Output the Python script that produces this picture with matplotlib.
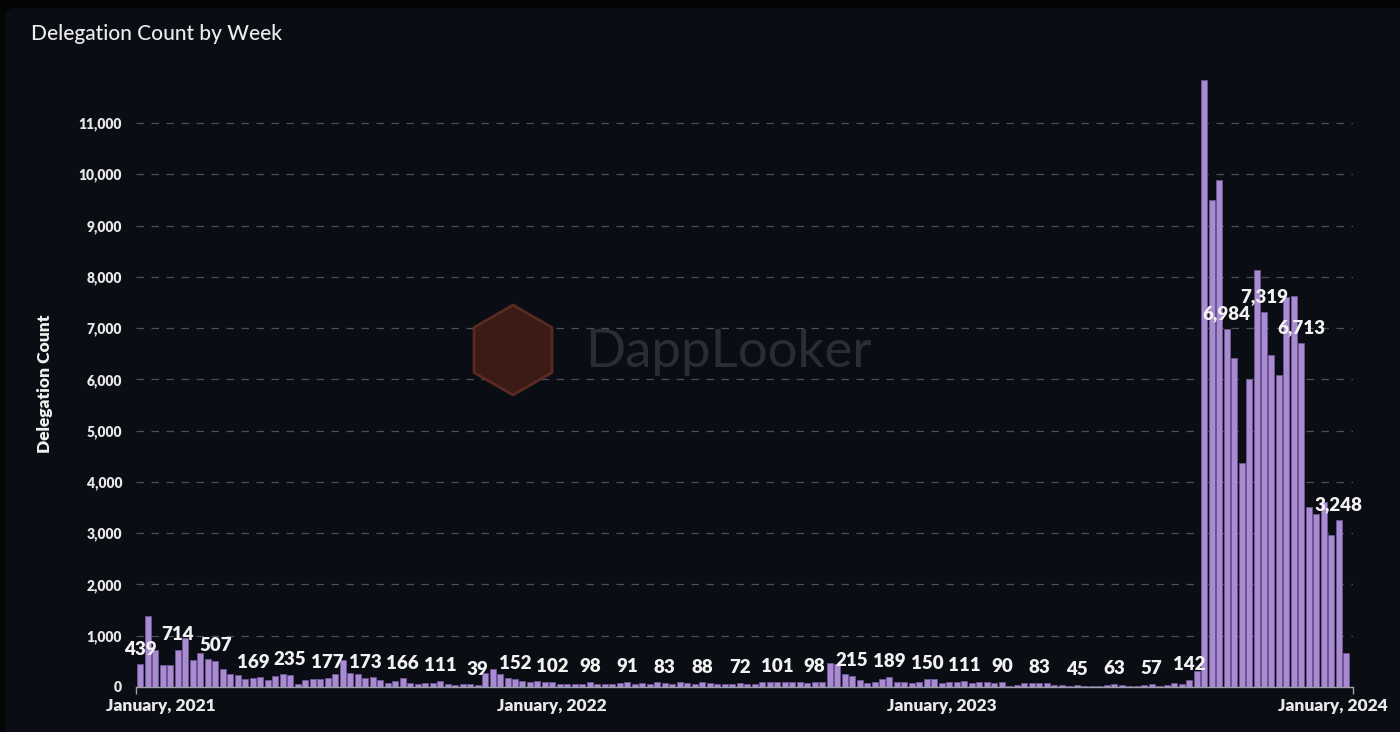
import numpy as np
import pandas as pd
import matplotlib
matplotlib.use("Agg")
import matplotlib.pyplot as plt
import matplotlib.dates as mdates
from matplotlib.patches import FancyBboxPatch, RegularPolygon
from matplotlib.transforms import IdentityTransform
from matplotlib.ticker import FuncFormatter

plt.rcParams['font.family'] = ['Lato', 'DejaVu Sans']

# weekly delegation counts, first week starting 2020-12-13
start_week = "2020-12-13"
counts = [
    439, 1390, 720, 430, 430, 714, 950, 520, 660, 540,
    507, 345, 260, 225, 165, 169, 195, 140, 220, 255,
    235, 50, 140, 165, 165, 177, 255, 520, 280, 260,
    173, 195, 140, 80, 110, 166, 80, 55, 80, 80,
    111, 55, 30, 55, 55, 39, 280, 345, 260, 170,
    152, 124, 91, 117, 91, 102, 60, 55, 60, 55,
    98, 55, 60, 58, 85, 91, 60, 85, 55, 88,
    83, 60, 88, 85, 60, 88, 80, 55, 58, 60,
    72, 55, 65, 95, 98, 101, 98, 100, 90, 85,
    98, 88, 460, 445, 260, 215, 140, 75, 105, 165,
    189, 105, 105, 75, 105, 150, 165, 75, 105, 105,
    111, 75, 105, 105, 75, 90, 20, 46, 72, 70,
    83, 72, 46, 46, 22, 45, 22, 22, 22, 46,
    63, 46, 22, 22, 46, 57, 22, 46, 75, 50,
    142, 310, 11835, 9500, 9880, 6984, 6410, 4370, 6000, 8130,
    7319, 6470, 6080, 7600, 7620, 6713, 3520, 3380, 3600, 2970,
    3248, 654,
]
label_every = 5
year_ticks = ["2021-01-01", "2022-01-01", "2023-01-01", "2024-01-01"]
year_labels = ["January, 2021", "January, 2022", "January, 2023", "January, 2024"]
y_ticks = list(range(0, 12000, 1000))

weeks = pd.date_range(start_week, periods=len(counts), freq="7D")

W, H = 1400, 732
fig = plt.figure(figsize=(W / 100, H / 100), dpi=100, facecolor="#040507")

# card background
card = FancyBboxPatch((5, -20), W + 20, H - 8 + 20,
                      boxstyle="round,pad=0,rounding_size=10",
                      transform=IdentityTransform(), fc="#0b0d14", ec="none", zorder=0)
fig.add_artist(card)

# watermark
hexa = RegularPolygon((513, H - 350), numVertices=6, radius=45,
                      transform=IdentityTransform(), fc="#3c1b16", ec="#5a2a20",
                      lw=2, zorder=1)
fig.add_artist(hexa)
fig.text(585 / W, 1 - 352 / H, "DappLooker", fontsize=38, color="#2c2d33",
         ha="left", va="center", zorder=1)

ax = fig.add_axes([136 / W, 45 / H, (1352.7 - 136) / W, (687 - 71.7) / H])
ax.set_facecolor("none")
ax.patch.set_alpha(0)

bar_color = "#a98bd1"
ax.bar(weeks, counts, width=5.6, color=bar_color, edgecolor="#6f5696",
       linewidth=0.6, zorder=3)

for i in range(0, len(counts), label_every):
    ax.annotate(f"{counts[i]:,}", (weeks[i], counts[i]), xytext=(0, 5),
                textcoords="offset points", ha="center", va="bottom",
                color="#f2f2f2", fontsize=13.5, fontweight=800, zorder=5)

x0 = mdates.date2num(weeks[0]) - 4.2
x1 = mdates.date2num(weeks[0]) + 1132.9
ax.set_xlim(x0, x1)
ax.set_ylim(0, 12000)

ax.set_yticks(y_ticks)
ax.yaxis.set_major_formatter(FuncFormatter(lambda v, p: f"{int(v):,}"))
ax.yaxis.grid(True, color="#4d5058", linestyle=(0, (6, 6)), linewidth=0.9)
ax.set_axisbelow(True)

ax.set_xticks(pd.to_datetime(year_ticks))
ax.set_xticklabels(year_labels)
ax.set_xticks([x0, x1], minor=True)

for s in ["top", "right", "left"]:
    ax.spines[s].set_visible(False)
ax.spines["bottom"].set_color("#9aa0a8")
ax.spines["bottom"].set_linewidth(1)
ax.spines["bottom"].set_zorder(4)

ax.tick_params(axis="y", length=0, pad=10, labelsize=10, labelcolor="#e8e8e8")
ax.tick_params(axis="x", which="major", length=0, pad=8, labelsize=12.5, labelcolor="#e8e8e8")
ax.tick_params(axis="x", which="minor", length=5, width=1, color="#9aa0a8")
for lab in ax.get_yticklabels() + ax.get_xticklabels():
    lab.set_fontweight(800)

fig.text(45 / W, 1 - 384 / H, "Delegation Count", rotation=90, ha="center", va="center",
         fontsize=12.5, fontweight=800, color="#f0f0f0")
fig.text(31 / W, 1 - 34 / H, "Delegation Count by Week", ha="left", va="center",
         fontsize=15, fontweight=500, color="#ececec")

fig.savefig("out.png", dpi=100, facecolor=fig.get_facecolor())
